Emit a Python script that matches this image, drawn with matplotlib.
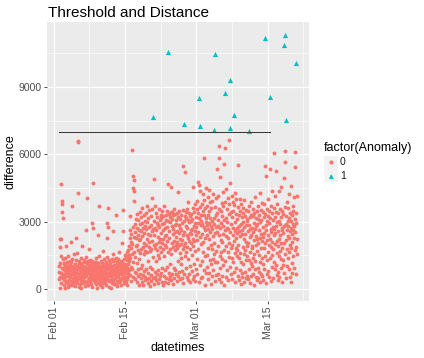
import numpy as np
import pandas as pd
import matplotlib
matplotlib.use("Agg")
import matplotlib.pyplot as plt
import matplotlib.dates as mdates
from matplotlib.patches import Rectangle
from matplotlib.lines import Line2D

plt.rcParams['font.family'] = ['Liberation Sans', 'DejaVu Sans']

# hourly series, first reading 2017-02-02 00:00
start = "2017-02-02 00:00"
threshold = 6970
threshold_from = "2017-02-02 00:00"
threshold_to = "2017-03-15 11:00"

# Feb 02 - Feb 14, one row per day (24 hourly values)
feb_a = [
    [1000, 420, 760, 30, 1850, 2200, 1150, 540, 1480, 720, 250, 2240, 4660, 940, 3900, 3800, 3430, 610, 3150, 1310, 470, 880, 160, 1090],
    [650, 1130, 380, 820, 40, 960, 1370, 510, 730, 1890, 280, 1050, 620, 910, 340, 1210, 790, 60, 1460, 570, 1000, 230, 840, 690],
    [410, 920, 1260, 150, 700, 1080, 530, 860, 330, 1180, 640, 2100, 980, 270, 760, 3700, 1340, 490, 1020, 190, 870, 610, 1540, 350],
    [780, 300, 1110, 560, 940, 120, 690, 1290, 2280, 450, 830, 1020, 260, 720, 1600, 380, 4270, 6590, 6550, 910, 540, 1170, 80, 660],
    [1230, 470, 850, 210, 990, 620, 1380, 340, 760, 1060, 50, 580, 1900, 910, 430, 1150, 700, 270, 1020, 820, 360, 1290, 640, 980],
    [520, 870, 140, 1180, 650, 990, 310, 780, 1420, 560, 2620, 4060, 830, 240, 1100, 690, 400, 1260, 920, 150, 760, 1050, 480, 1780],
    [880, 360, 1020, 610, 1300, 200, 740, 950, 470, 1150, 820, 70, 590, 1240, 2950, 4730, 680, 1010, 2700, 390, 860, 1190, 540, 930],
    [310, 780, 1090, 450, 960, 1350, 220, 650, 880, 1200, 530, 20, 790, 1040, 380, 940, 2400, 610, 1130, 3670, 270, 720, 1460, 500],
    [840, 150, 620, 1010, 390, 770, 1250, 560, 930, 80, 680, 1140, 300, 870, 1700, 470, 1060, 250, 740, 1320, 590, 990, 420, 1110],
    [660, 1030, 290, 800, 1190, 520, 940, 170, 710, 1400, 450, 880, 2250, 2950, 3600, 2760, 610, 1080, 330, 960, 750, 1270, 100, 580],
    [920, 400, 1160, 700, 50, 1010, 560, 830, 1330, 260, 690, 980, 440, 1220, 810, 2580, 1560, 350, 1070, 620, 900, 210, 1280, 760],
    [490, 1050, 780, 230, 940, 1390, 3270, 610, 1110, 360, 850, 1200, 120, 710, 1000, 540, 1310, 880, 290, 1620, 670, 1040, 430, 1150],
    [860, 330, 1090, 640, 1250, 180, 790, 1020, 470, 2060, 920, 1180, 580, 740, 2590, 3520, 1080, 410, 1340, 860, 250, 970, 1500, 690],
]

# Feb 15 - Feb 28
feb_b = [
    [1120, 520, 880, 1460, 300, 1020, 780, 1270, 450, 1630, 920, 160, 1380, 690, 1750, 1100, 560, 1520, 830, 1240, 1900, 3250, 2600, 2250],
    [1350, 620, 2100, 980, 1800, 350, 2450, 1560, 860, 6190, 1980, 2750, 520, 5020, 4490, 1200, 4850, 4340, 2300, 3920, 1660, 760, 2900, 1420],
    [2550, 430, 1890, 3100, 710, 2280, 1150, 2700, 310, 1950, 3350, 880, 2420, 560, 1720, 3050, 2180, 190, 2640, 1330, 2870, 640, 3420, 1600],
    [2230, 920, 3180, 480, 2560, 1760, 280, 2940, 1040, 2370, 3600, 620, 1850, 2710, 150, 3270, 2050, 790, 1550, 2490, 370, 3010, 1680, 2820],
    [520, 2660, 1930, 3380, 870, 2200, 420, 2980, 1620, 3700, 260, 2450, 1250, 3150, 700, 1880, 2750, 460, 3520, 2100, 950, 1700, 2380, 110],
    [2850, 610, 3250, 1780, 330, 2560, 4050, 890, 2150, 3560, 1420, 7676, 2650, 480, 4890, 1960, 3020, 200, 2380, 3700, 760, 1830, 2700, 540],
    [1990, 3400, 380, 2620, 1240, 2950, 660, 1710, 3200, 250, 2330, 1500, 2840, 820, 3560, 2090, 430, 2760, 1390, 3080, 590, 2240, 1880, 3310],
    [700, 2480, 3150, 1620, 280, 2870, 2040, 3450, 910, 1790, 2610, 150, 3240, 2220, 560, 2950, 1450, 3690, 320, 2350, 1960, 850, 2710, 3050],
    [2400, 490, 3300, 1850, 2760, 980, 3480, 2110, 260, 3020, 10564, 1640, 4660, 710, 3350, 2250, 420, 2590, 3190, 1120, 2970, 580, 1770, 3420],
    [4560, 1540, 380, 2790, 3410, 2060, 650, 3120, 2460, 1880, 200, 3290, 2670, 940, 3550, 2150, 470, 2840, 1710, 3320, 830, 2530, 1950, 2890],
    [2310, 670, 3060, 1820, 2580, 340, 3370, 2090, 1260, 4330, 560, 3190, 1940, 2470, 2860, 760, 3450, 2200, 1580, 2730, 420, 3100, 2010, 1350],
    [2640, 1100, 3300, 480, 2190, 2920, 810, 5480, 1760, 3510, 2380, 270, 3020, 1920, 2550, 640, 7333, 1480, 3240, 5190, 2060, 930, 2780, 3420],
    [1650, 3140, 2400, 520, 3580, 1880, 2710, 370, 3050, 2260, 1340, 3850, 650, 2960, 2140, 3400, 1020, 2500, 290, 3230, 1780, 2450, 3010, 2600],
    [2050, 3320, 780, 2670, 1510, 3090, 430, 2240, 3600, 1890, 4550, 2800, 560, 3430, 2140, 1120, 2950, 3780, 340, 2560, 1700, 3190, 860, 2400],
]

# Mar 01 - Mar 20 (last day ends at 19:00)
mar = [
    [2740, 3560, 1320, 2180, 3900, 640, 2950, 3380, 1760, 2520, 4770, 4620, 280, 8520, 3140, 2310, 7244, 4340, 1070, 3650, 2860, 480, 3270, 1980],
    [3020, 2460, 3780, 1250, 2890, 520, 3450, 2100, 4230, 1640, 2750, 3980, 830, 3310, 5850, 2250, 180, 3620, 2600, 1460, 4480, 2970, 690, 3140],
    [2380, 3710, 960, 2860, 1520, 3300, 440, 2670, 4080, 1830, 3480, 2200, 4400, 710, 2940, 3850, 1290, 2540, 3160, 230, 1950, 3590, 2780, 1100],
    [1780, 3020, 560, 2660, 3930, 1340, 2350, 4210, 820, 3150, 2030, 1570, 7067, 2880, 350, 10489, 3640, 1210, 2470, 4050, 1690, 2760, 620, 3290],
    [2540, 1210, 5330, 3370, 680, 2820, 4130, 1900, 3060, 450, 2390, 5850, 6370, 3580, 1470, 2700, 920, 4980, 2190, 3460, 1640, 290, 2930, 3810],
    [1330, 3240, 2080, 560, 3690, 2450, 1060, 4330, 2800, 190, 3050, 1750, 5550, 2620, 3890, 8711, 1240, 6270, 2360, 520, 3170, 4470, 1900, 2710],
    [2990, 840, 3540, 1630, 2250, 4060, 370, 2680, 3330, 1420, 6650, 2060, 3760, 4700, 980, 9333, 7169, 2540, 1810, 3420, 640, 2870, 4150, 1350],
    [3180, 1950, 440, 2730, 3880, 1200, 2410, 3470, 750, 2140, 3720, 7733, 1580, 2960, 4260, 310, 2580, 1840, 3350, 920, 2250, 3990, 1470, 2690],
    [1720, 3120, 2480, 590, 3650, 5540, 1960, 2780, 380, 3290, 1360, 2570, 4020, 820, 2340, 3460, 1610, 210, 2900, 3770, 1180, 2450, 3180, 700],
    [2620, 540, 3380, 1870, 2990, 1100, 3600, 2210, 310, 2760, 1560, 3960, 760, 2430, 3250, 1740, 460, 2860, 3520, 1290, 2080, 3100, 590, 1920],
    [3040, 1450, 2570, 420, 3480, 2050, 1280, 2830, 3700, 7053, 890, 2310, 3190, 1630, 270, 2670, 3850, 1150, 2420, 560, 3300, 1890, 2710, 1020],
    [1830, 3260, 660, 2540, 1370, 3580, 2180, 170, 2920, 1560, 3390, 860, 2650, 4100, 1250, 2360, 520, 3150, 1940, 2780, 370, 3470, 1690, 2200],
    [2890, 940, 3120, 2040, 480, 3670, 1500, 2610, 3280, 760, 2260, 4250, 1180, 2960, 320, 3530, 1810, 2430, 680, 3060, 2140, 1390, 3840, 550],
    [2310, 3430, 1120, 2770, 410, 3180, 1830, 2490, 3760, 890, 2050, 3350, 5480, 11187, 1460, 2860, 240, 5040, 2600, 3580, 1270, 2180, 3020, 670],
    [3260, 1650, 2420, 4020, 780, 2950, 1960, 3480, 540, 8547, 5350, 2230, 1390, 3140, 2680, 360, 3710, 1860, 2510, 950, 3380, 2070, 4350, 1510],
    [2740, 460, 3050, 1760, 2380, 3590, 1210, 6040, 2650, 860, 3220, 1980, 4120, 2490, 5260, 1050, 2820, 3440, 620, 2140, 3760, 1590, 2960, 380],
    [1920, 3380, 2560, 730, 3010, 1460, 4380, 2240, 510, 2870, 3560, 1690, 2410, 940, 3190, 2030, 4560, 1320, 2700, 290, 3470, 1840, 2620, 1080],
    [2480, 1290, 3330, 2060, 4960, 10858, 690, 2790, 3640, 11333, 6150, 5660, 1540, 2910, 480, 3260, 2170, 7524, 1020, 2640, 3870, 1760, 2350, 3030],
    [1390, 2820, 3610, 860, 2270, 3150, 1620, 4240, 540, 2580, 3400, 1950, 2730, 320, 3020, 1840, 4580, 2460, 1160, 3280, 2090, 690, 2870, 3700],
    [2610, 1480, 3470, 2790, 920, 2250, 4080, 1730, 3120, 2540, 5440, 6090, 10058, 1860, 2950, 640, 3380, 2230, 4120, 1570],
]

xticks = ["2017-02-01", "2017-02-15", "2017-03-01", "2017-03-15"]
xtick_labels = ["Feb 01", "Feb 15", "Mar 01", "Mar 15"]
xminor = ["2017-02-08", "2017-02-22", "2017-03-08", "2017-03-22"]
yticks = [0, 3000, 6000, 9000]
yminor = [1500, 4500, 7500, 10500]
legend_labels = ["0", "1"]

diff = np.array([v for row in feb_a + feb_b + mar for v in row])
times = pd.date_range(start, periods=len(diff), freq="h")
x = mdates.date2num(times.to_pydatetime())
anomaly = diff > threshold

red = "#F8766D"
teal = "#00BFC4"

fig = plt.figure(figsize=(4.24, 3.58), dpi=100)
ax = fig.add_axes([47 / 424, 1 - 301 / 358, 262 / 424, 279 / 358])
ax.set_facecolor("#EBEBEB")
for s in ax.spines.values():
    s.set_visible(False)

ax.scatter(x[~anomaly], diff[~anomaly], s=8, c=red, marker="o", linewidths=0, zorder=3)
ax.scatter(x[anomaly], diff[anomaly], s=14, c=teal, marker="^", linewidths=0, zorder=3)
tx = mdates.date2num([pd.Timestamp(threshold_from), pd.Timestamp(threshold_to)])
ax.plot(tx, [threshold, threshold], color="#3A3A3A", lw=0.75, zorder=4)

# ggplot-style 5% expansion
xr = x.max() - x.min()
ax.set_xlim(x.min() - 0.05 * xr, x.max() + 0.05 * xr)
yr = diff.max() - diff.min()
ax.set_ylim(diff.min() - 0.05 * yr, diff.max() + 0.05 * yr)

ax.set_xticks(mdates.date2num([pd.Timestamp(t) for t in xticks]))
ax.set_xticklabels(xtick_labels, rotation=90)
ax.set_xticks(mdates.date2num([pd.Timestamp(t) for t in xminor]), minor=True)
ax.set_yticks(yticks)
ax.set_yticklabels([str(v) for v in yticks])
ax.set_yticks(yminor, minor=True)

ax.grid(which="major", color="white", lw=0.9, zorder=0)
ax.grid(which="minor", color="white", lw=0.45, zorder=0)
ax.set_axisbelow(True)
ax.tick_params(which="major", length=2.5, width=0.6, color="#333333",
               labelsize=7.5, labelcolor="#4D4D4D", pad=1.5)
ax.tick_params(which="minor", length=0)

fig.text(47.5 / 424, 1 - 17 / 358, "Threshold and Distance", fontsize=11, va="baseline", ha="left")
fig.text(178 / 424, 1 - 348 / 358, "datetimes", fontsize=9, ha="center", va="center")
fig.text(11 / 424, 1 - 161.5 / 358, "difference", fontsize=9, ha="center", va="center", rotation=90)

# legend drawn by hand, ggplot look
fig.text(324 / 424, 1 - 151 / 358, "factor(Anomaly)", fontsize=9, ha="left", va="baseline")
keys = [(162.3, red, "o", 3.0), (175.7, teal, "^", 3.6)]
for (cy, col, mk, ms), lab in zip(keys, legend_labels):
    fig.add_artist(Rectangle((324 / 424, 1 - (cy + 6.7) / 358), 13.5 / 424, 13.4 / 358,
                             transform=fig.transFigure, facecolor="#F2F2F2", edgecolor="none"))
    fig.add_artist(Line2D([331 / 424], [1 - cy / 358], marker=mk, color=col, markersize=ms,
                          markeredgewidth=0, linestyle="none", transform=fig.transFigure))
    fig.text(340 / 424, 1 - cy / 358, lab, fontsize=7.5, ha="left", va="center", color="#1A1A1A")

fig.savefig("out.png", dpi=100)
